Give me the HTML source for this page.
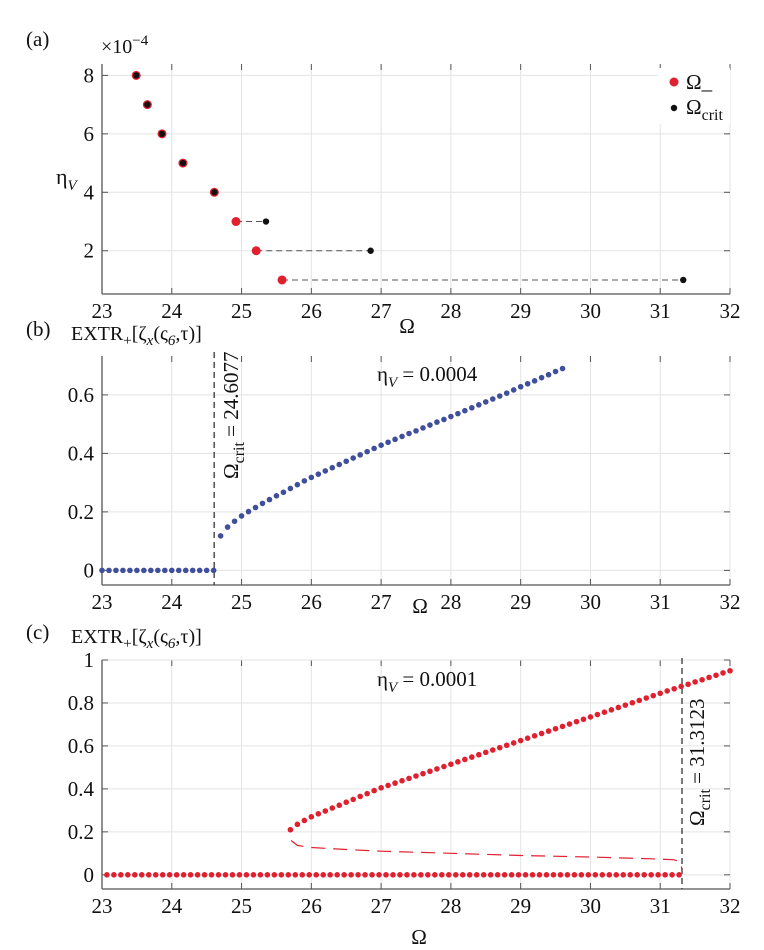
<!DOCTYPE html>
<html><head><meta charset="utf-8">
<style>
html,body{margin:0;padding:0;background:#fff;font-family:"Liberation Serif","Times New Roman",Times,"Nimbus Roman","DejaVu Serif",serif;}
svg{display:block;}
svg text{font-family:"Liberation Serif","Times New Roman",Times,"Nimbus Roman","DejaVu Serif",serif;}
</style></head>
<body>
<svg id="fig" width="764" height="950" viewBox="0 0 764 950" xmlns="http://www.w3.org/2000/svg"></svg>
<script>
// ---------- Panel (a) data ----------
const etaA = [8, 7, 6, 5, 4, 3, 2, 1];
const omegaMinusA = [23.49, 23.65, 23.86, 24.16, 24.61, 24.92, 25.21, 25.58];
const omegaCritA = [23.49, 23.65, 23.86, 24.16, 24.61, 25.35, 26.85, 31.33];
const xTicks = [23, 24, 25, 26, 27, 28, 29, 30, 31, 32];
const yTicksA = [2, 4, 6, 8];
// ---------- Panel (b) data ----------
const yTicksB = [0, 0.2, 0.4, 0.6];
const critB = 24.6077;
const zeroOmegaB = [23.0,23.1,23.2,23.3,23.4,23.5,23.6,23.7,23.8,23.9,24.0,24.1,24.2,24.3,24.4,24.5,24.6];
const branchOmegaB = [24.7,24.8,24.9,25.0,25.1,25.2,25.3,25.4,25.5,25.6,25.7,25.8,25.9,26.0,26.1,26.2,26.3,26.4,26.5,26.6,26.7,26.8,26.9,27.0,27.1,27.2,27.3,27.4,27.5,27.6,27.7,27.8,27.9,28.0,28.1,28.2,28.3,28.4,28.5,28.6,28.7,28.8,28.9,29.0,29.1,29.2,29.3,29.4,29.5,29.6];
const branchValB = [0.118,0.148,0.168,0.186,0.201,0.215,0.229,0.242,0.255,0.267,0.280,0.293,0.306,0.318,0.329,0.340,0.351,0.362,0.373,0.384,0.395,0.406,0.417,0.428,0.438,0.448,0.458,0.468,0.477,0.487,0.497,0.507,0.516,0.526,0.536,0.546,0.556,0.566,0.576,0.586,0.596,0.606,0.617,0.628,0.638,0.648,0.659,0.669,0.680,0.690];
// ---------- Panel (c) data ----------
const yTicksC = [0, 0.2, 0.4, 0.6, 0.8, 1];
const critC = 31.3123;
const zeroStartC = 23.07, zeroStepC = 0.1, zeroCountC = 83;
const upperStartC = 25.7;
const upperValC = [0.21,0.235,0.253,0.270,0.284,0.297,0.311,0.324,0.338,0.351,0.365,0.378,0.392,
 0.405,0.416,0.427,0.438,0.449,0.460,0.471,0.482,0.493,0.504,
 0.515,0.526,0.537,0.548,0.559,0.570,0.581,0.592,0.603,0.614,
 0.625,0.636,0.647,0.658,0.669,0.680,0.691,0.702,0.713,0.724,
 0.735,0.746,0.757,0.768,0.779,0.790,0.801,0.812,0.823,0.834,
 0.845,0.856,0.866,0.877,0.887,0.898,0.908,0.919,0.929,0.940,0.950];
const unstableOmegaC = [25.71,25.8,26.0,26.5,27,28,29,30,31,31.2,31.27,31.3,31.31];
const unstableValC = [0.16,0.137,0.127,0.118,0.11,0.10,0.09,0.083,0.073,0.07,0.062,0.045,0.02];

const NS = "http://www.w3.org/2000/svg";
const FONT = '"Liberation Serif", "Times New Roman", Times, "Nimbus Roman", "DejaVu Serif", serif';
const svg = document.getElementById('fig');
function mk(tag, attrs, parent){
  const e = document.createElementNS(NS, tag);
  for (const k in attrs) e.setAttribute(k, attrs[k]);
  (parent||svg).appendChild(e);
  return e;
}
function txt(s, x, y, size, parent, anchor){
  const t = mk('text', {x:x, y:y, 'font-size':size, 'text-anchor':anchor||'start', fill:'#111'}, parent);
  t.style.fontFamily = FONT;
  t.innerHTML = s;
  return t;
}
const X0 = 102, X1 = 730, XMIN = 23, XMAX = 32;
const sx = v => X0 + (v - XMIN) / (XMAX - XMIN) * (X1 - X0);
const TS = 21;

function axes(g, top, bot, ymin, ymax, yticks, fmt, name){
  const sy = v => bot - (v - ymin) / (ymax - ymin) * (bot - top);
  xTicks.forEach(t => {
    const l = mk('line', {x1:sx(t), x2:sx(t), y1:top, y2:bot, stroke:'#e3e3e3', 'stroke-width':1}, g);
    
    
    mk('line', {x1:sx(t), x2:sx(t), y1:bot, y2:bot-6, stroke:'#555', 'stroke-width':1}, g);
    mk('line', {x1:sx(t), x2:sx(t), y1:top, y2:top+6, stroke:'#555', 'stroke-width':1}, g);
    const lab = txt(String(t), sx(t), bot + 24, TS, g, 'middle');
    
    
  });
  yticks.forEach(t => {
    const l = mk('line', {x1:X0, x2:X1, y1:sy(t), y2:sy(t), stroke:'#e3e3e3', 'stroke-width':1}, g);
    
    
    mk('line', {x1:X0, x2:X0+6, y1:sy(t), y2:sy(t), stroke:'#555', 'stroke-width':1}, g);
    mk('line', {x1:X1, x2:X1-6, y1:sy(t), y2:sy(t), stroke:'#555', 'stroke-width':1}, g);
    const lab = txt(fmt(t), X0 - 8, sy(t) + 7, TS, g, 'end');
    
    
  });
  const ya = mk('line', {x1:X0, x2:X0, y1:top, y2:bot, stroke:'#555', 'stroke-width':1.3}, g);
  
  
  const xa = mk('line', {x1:X0, x2:X1, y1:bot, y2:bot, stroke:'#555', 'stroke-width':1.3}, g);
  
  
  return sy;
}

// ================= Panel (a) =================
const gA = mk('g', {});


const syA = axes(gA, 64, 294, 0.52, 8.39, yTicksA, t => String(t), 'panel-a');
let t = txt('(a)', 26, 46, 21, gA);  
t = txt('×10<tspan dy="-8" font-size="15">−4</tspan>', 101, 53, 20, gA);  
t = txt('η<tspan dy="6" font-size="15" font-style="italic">V</tspan>', 56, 184, 22, gA);  
t = txt('Ω', 407, 333, 21, gA, 'middle');  
etaA.forEach((e, i) => {
  if (Math.abs(omegaCritA[i] - omegaMinusA[i]) > 0.05) {
    const l = mk('line', {x1:sx(omegaMinusA[i]), x2:sx(omegaCritA[i]), y1:syA(e), y2:syA(e), stroke:'#555', 'stroke-width':1, 'stroke-dasharray':'6,4'}, gA);
    
    
  }
  const r = mk('circle', {cx:sx(omegaMinusA[i]), cy:syA(e), r:4.5, fill:'#e0202e'}, gA);
  
  
  const b = mk('circle', {cx:sx(omegaCritA[i]), cy:syA(e), r:3.2, fill:'#111'}, gA);
  
  
});
const lg = mk('g', {}, gA);


mk('rect', {x:658, y:68, width:72, height:56, fill:'#fff'}, lg);
let le = mk('circle', {cx:674, cy:82, r:4.5, fill:'#e0202e'}, lg);
 
txt('Ω_', 686, 89, 21, lg);
le = mk('circle', {cx:674, cy:108, r:3.2, fill:'#111'}, lg);
 
txt('Ω<tspan dy="6" font-size="16">crit</tspan>', 686, 114, 21, lg);

// ================= Panel (b) =================
const gB = mk('g', {});


const syB = axes(gB, 356, 585, -0.05, 0.733, yTicksB, t => String(t), 'panel-b');
t = txt('(b)', 26, 336, 21, gB);  
t = txt('EXTR<tspan dy="5" font-size="15">+</tspan><tspan dy="-5">[ζ</tspan><tspan dy="5" font-size="15" font-style="italic">x</tspan><tspan dy="-5">(ς</tspan><tspan dy="5" font-size="15" font-style="italic">6</tspan><tspan dy="-5">,τ)]</tspan>', 71, 340, 20, gB);
 
t = txt('Ω', 420, 613, 21, gB, 'middle');  
let cl = mk('line', {x1:sx(critB), x2:sx(critB), y1:352, y2:585, stroke:'#444', 'stroke-width':1.4, 'stroke-dasharray':'6,4'}, gB);
 
t = txt('Ω<tspan dy="6" font-size="16">crit</tspan><tspan dy="-6"> = 24.6077</tspan>', 0, 0, 21, gB);
t.setAttribute('transform', 'translate(' + (sx(critB) + 24) + ',479) rotate(-90)');
 
t = txt('η<tspan dy="6" font-size="15" font-style="italic">V</tspan><tspan dy="-6"> = 0.0004</tspan>', 377, 381, 21, gB);
 
zeroOmegaB.forEach(o => {
  const c = mk('circle', {cx:sx(o), cy:syB(0), r:2.8, fill:'#3f4f9c'}, gB);
  
  
});
branchOmegaB.forEach((o, i) => {
  const c = mk('circle', {cx:sx(o), cy:syB(branchValB[i]), r:2.8, fill:'#3f4f9c'}, gB);
  
  
});

// ================= Panel (c) =================
const gC = mk('g', {});


const syC = axes(gC, 660, 889, -0.066, 1.0, yTicksC, t => String(t), 'panel-c');
t = txt('(c)', 26, 639, 21, gC);  
t = txt('EXTR<tspan dy="5" font-size="15">+</tspan><tspan dy="-5">[ζ</tspan><tspan dy="5" font-size="15" font-style="italic">x</tspan><tspan dy="-5">(ς</tspan><tspan dy="5" font-size="15" font-style="italic">6</tspan><tspan dy="-5">,τ)]</tspan>', 71, 643, 20, gC);
 
t = txt('Ω', 419, 944, 21, gC, 'middle');  
cl = mk('line', {x1:sx(critC), x2:sx(critC), y1:658, y2:889, stroke:'#444', 'stroke-width':1.4, 'stroke-dasharray':'6,4'}, gC);
 
t = txt('Ω<tspan dy="6" font-size="16">crit</tspan><tspan dy="-6"> = 31.3123</tspan>', 0, 0, 21, gC);
t.setAttribute('transform', 'translate(' + (sx(critC) + 22) + ',826) rotate(-90)');
 
t = txt('η<tspan dy="6" font-size="15" font-style="italic">V</tspan><tspan dy="-6"> = 0.0001</tspan>', 377, 686, 21, gC);
 
let d = '';
unstableOmegaC.forEach((o, i) => { d += (i ? 'L' : 'M') + sx(o).toFixed(1) + ',' + syC(unstableValC[i]).toFixed(1) + ' '; });
const up = mk('path', {d:d, fill:'none', stroke:'#e0202e', 'stroke-width':1.2, 'stroke-dasharray':'14,8'}, gC);


for (let i = 0; i < zeroCountC; i++) {
  const o = zeroStartC + i * zeroStepC;
  const c = mk('circle', {cx:sx(o), cy:syC(0), r:2.8, fill:'#e0202e'}, gC);
  
  
}
upperValC.forEach((v, i) => {
  const o = upperStartC + i * 0.1;
  const c = mk('circle', {cx:sx(o), cy:syC(v), r:2.8, fill:'#e0202e'}, gC);
  
  
});
</script>
</body></html>
